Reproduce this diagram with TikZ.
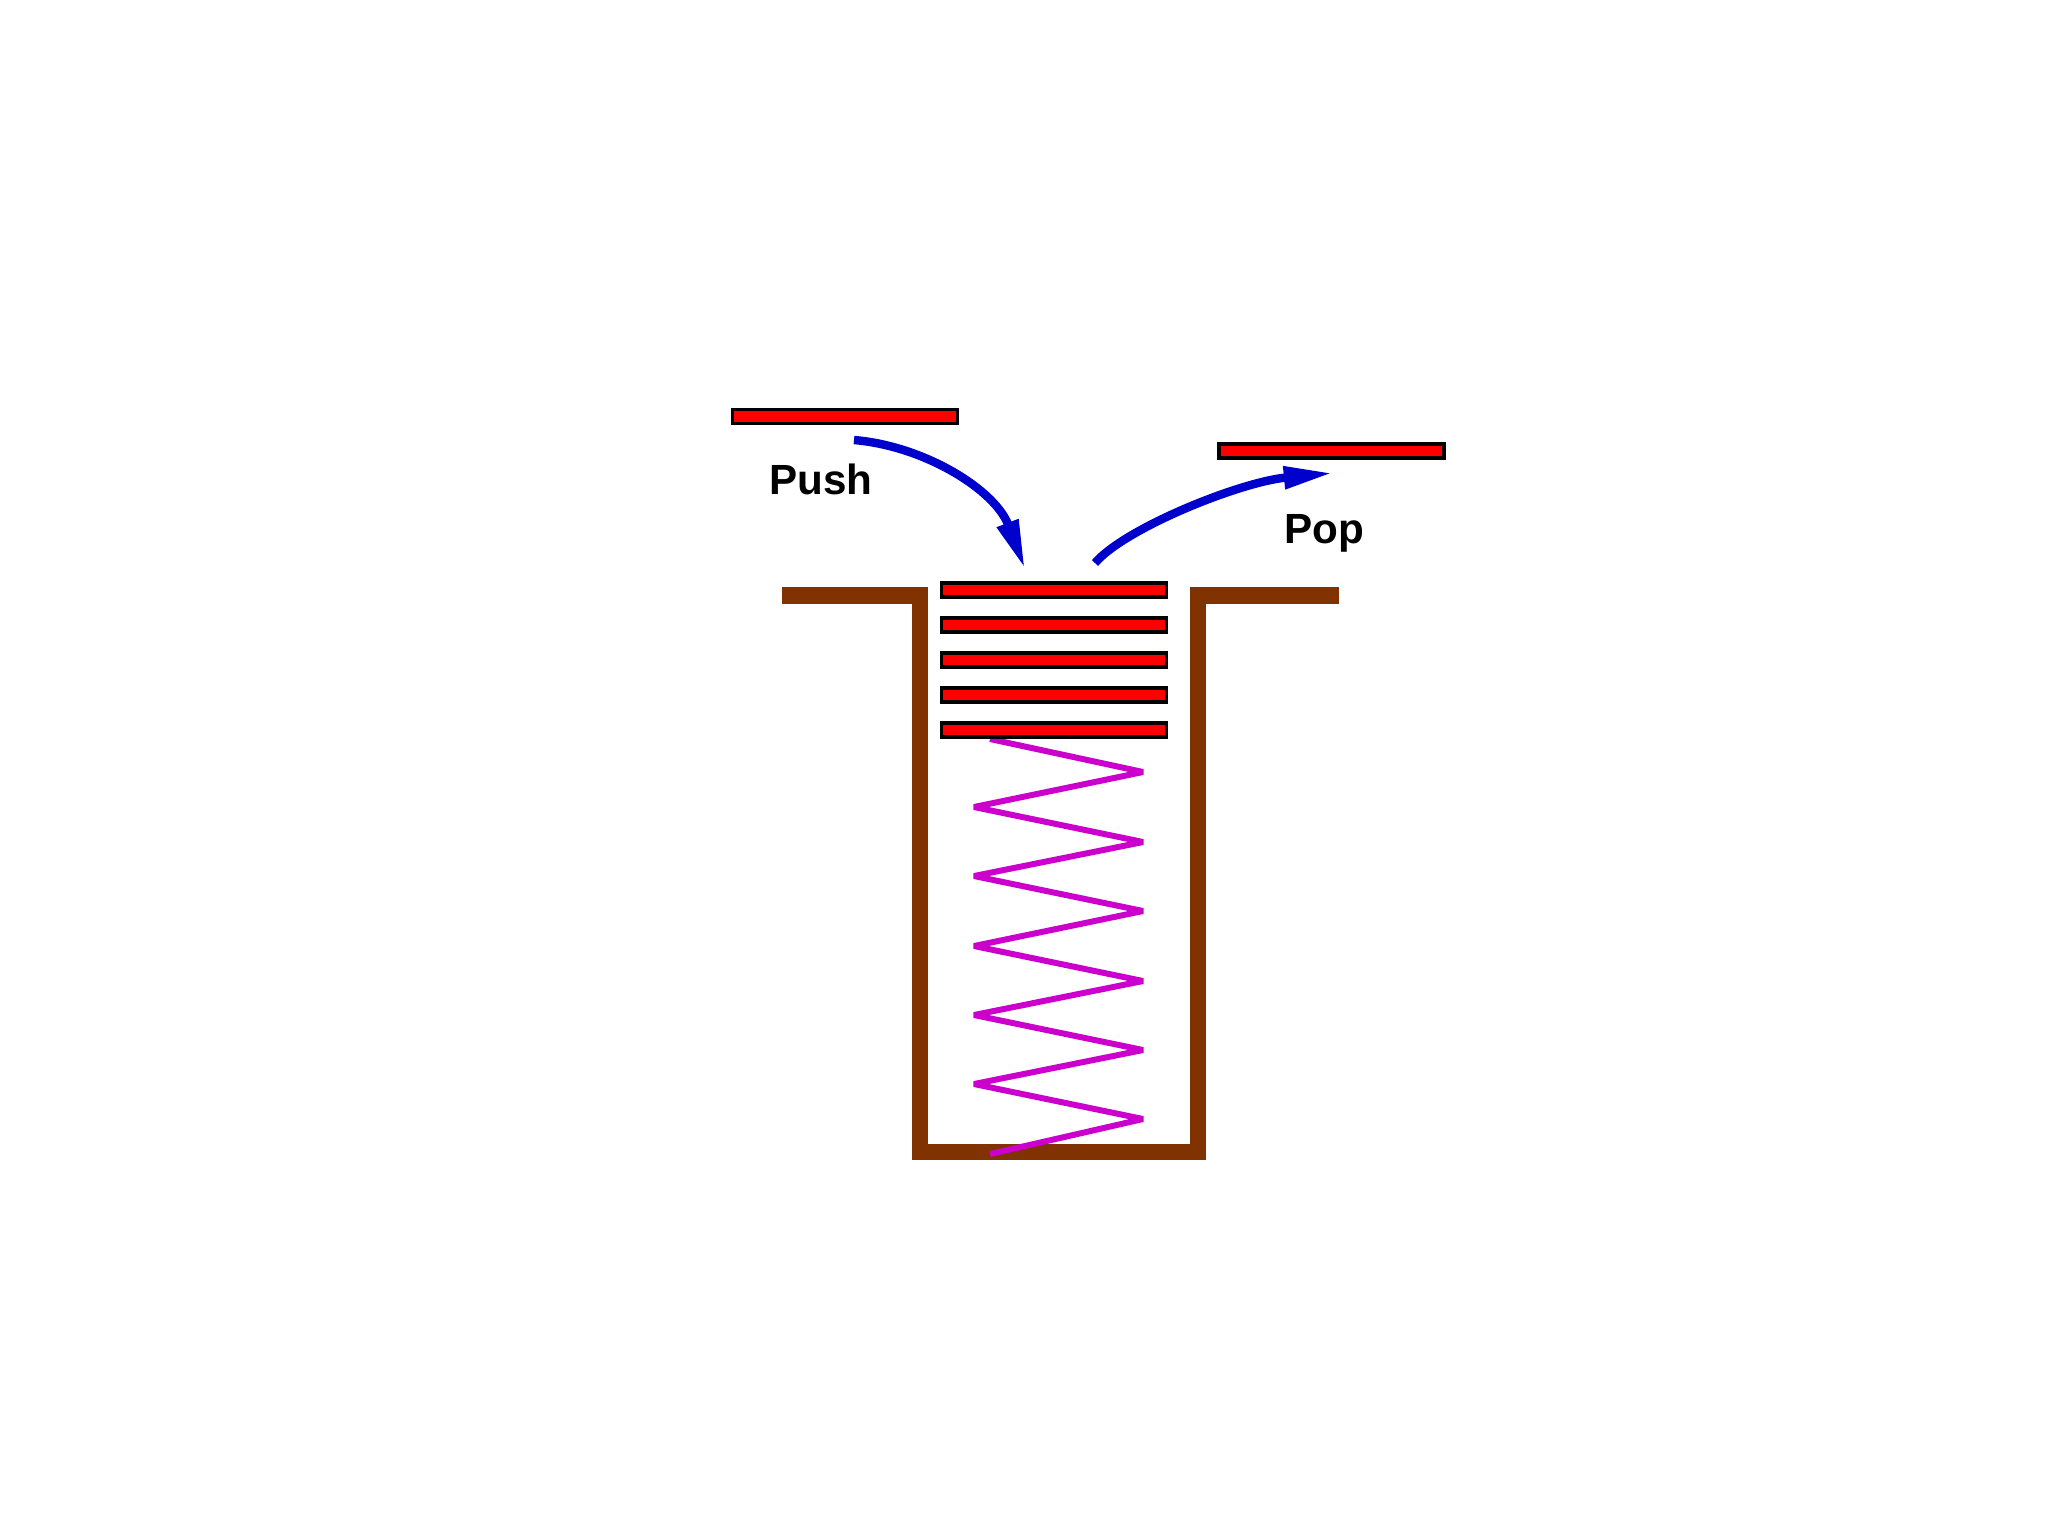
\documentclass[tikz,border=0pt]{standalone}
\usepackage{fontspec}
\setmainfont{Liberation Sans}
\usetikzlibrary{arrows.meta}
\definecolor{platered}{RGB}{255,0,0}
\definecolor{wallbrown}{RGB}{128,50,0}
\definecolor{springpink}{RGB}{204,0,204}
\definecolor{arrowblue}{RGB}{0,0,204}

\begin{document}
\begin{tikzpicture}[
    x=0.01cm, y=-0.01cm,
    plate/.style={rectangle,draw=black,fill=platered,line width=1pt,
      inner sep=0pt,minimum width=2.25cm,minimum height=0.14cm},
    wall/.style={draw=wallbrown,line width=4.6pt,line join=miter},
    spring/.style={draw=springpink,line width=1.7pt,line join=bevel},
    arrow/.style={-{Triangle[length=14pt,width=6pt]},draw=arrowblue,line width=2.4pt},
    lbl/.style={font=\bfseries\fontsize{12}{14}\selectfont,anchor=base,inner sep=0pt}
  ]
    \useasboundingbox (0,0) rectangle (2048,1536);

    % container
    \draw[wall] (782,595.5) -| (920,1152) -| (1198,595.5) -- (1339,595.5);

    % spring under the stack
    \draw[spring] (990,739) -- (1143,772) -- (974,807) -- (1143,842) -- (974,876)
      -- (1143,911) -- (974,946) -- (1143,981) -- (974,1015) -- (1143,1050)
      -- (974,1084) -- (1143,1119) -- (990,1154);

    % stacked plates
    \node[plate] (s1) at (1054,590) {};
    \node[plate] (s2) at (1054,625) {};
    \node[plate] (s3) at (1054,660) {};
    \node[plate] (s4) at (1054,695) {};
    \node[plate] (s5) at (1054,730) {};

    % plates going in / out
    \node[plate] (pushed) at (845,416.5) {};
    \node[plate] (popped) at (1331.5,451) {};

    \node[lbl] (pushlbl) at (821,494) {Push};
    \node[lbl] (poplbl) at (1324,543) {Pop};

    \coordinate (pushfrom) at (854,440);
    \coordinate (pushto) at (1025,569);
    \coordinate (popfrom) at (1095,563);
    \coordinate (popto) at (1333,473);

    \draw[arrow] (pushfrom) .. controls (925,446) and (995,490) .. (pushto);
    \draw[arrow] (popfrom) .. controls (1125,528) and (1240,482) .. (popto);
  \end{tikzpicture}
\end{document}
